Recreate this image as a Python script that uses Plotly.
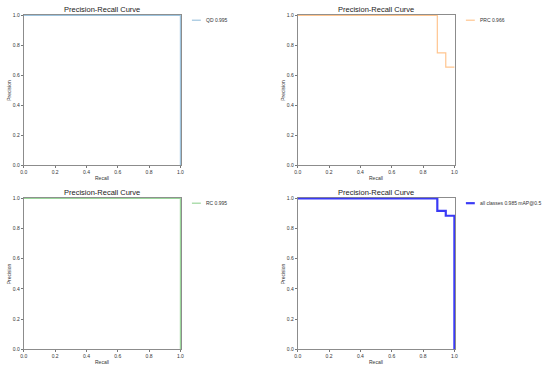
import plotly.graph_objects as go

# Data (recall, precision) step points
qd_recall = [0.0, 1.0]
qd_precision = [1.0, 0.0]
prc_recall = [0.0, 0.891, 0.945, 1.0]
prc_precision = [1.0, 0.75, 0.655, 0.655]
rc_recall = [0.0, 1.0]
rc_precision = [1.0, 0.0]
all_recall = [0.0, 0.891, 0.945, 1.0]
all_precision = [1.0, 0.917, 0.885, 0.0]

labels = ["QD 0.995", "PRC 0.966", "RC 0.995", "all classes 0.985 mAP@0.5"]
colors = ["#9ec4de", "#ffc58f", "#9ad69a", "#3a3af5"]
widths = [1.2, 1.2, 1.2, 2.2]
ticks = [0.0, 0.2, 0.4, 0.6, 0.8, 1.0]
tick_text = ["0.0", "0.2", "0.4", "0.6", "0.8", "1.0"]

W, H = 550, 369
FONT = "Liberation Sans, Arial, sans-serif"
TXT = "#333333"

# panel domains (paper coords)
xd = [(21 / W, 180 / W), (298 / W, 457 / W)]
yd = [(1 - 165 / H, 1 - 12 / H), (1 - 352 / H, 1 - 198 / H)]

panels = [
    (qd_recall, qd_precision, 0, 0),
    (prc_recall, prc_precision, 1, 0),
    (rc_recall, rc_precision, 0, 1),
    (all_recall, all_precision, 1, 1),
]

fig = go.Figure()
annotations = []
shapes = []
layout = dict(
    width=W, height=H, margin=dict(l=0, r=0, t=0, b=0),
    paper_bgcolor="white", plot_bgcolor="white",
    font=dict(family=FONT, size=5, color=TXT),
    showlegend=False,
)

for i, (xr, yp, cx, ry) in enumerate(panels):
    n = i + 1
    xa = "x" if n == 1 else f"x{n}"
    ya = "y" if n == 1 else f"y{n}"
    fig.add_trace(go.Scatter(
        x=xr, y=yp, mode="lines", line=dict(color=colors[i], width=widths[i], shape="hv"),
        name=labels[i], xaxis=xa, yaxis=ya,
    ))
    axcommon = dict(
        range=[0, 1.004], showgrid=False, zeroline=False, showline=True, mirror=True,
        linecolor="#8c8c8c", linewidth=1, ticks="outside", ticklen=2, tickwidth=0.8,
        tickcolor="#555555", tickvals=ticks, ticktext=tick_text, layer="below traces",
        tickfont=dict(size=5, family=FONT, color=TXT), fixedrange=True,
    )
    layout[("xaxis" if n == 1 else f"xaxis{n}")] = dict(axcommon, domain=list(xd[cx]), anchor=ya)
    layout[("yaxis" if n == 1 else f"yaxis{n}")] = dict(axcommon, domain=list(yd[ry]), anchor=xa)

    xmid = (xd[cx][0] + xd[cx][1]) / 2
    ymid = (yd[ry][0] + yd[ry][1]) / 2
    # subplot title
    annotations.append(dict(
        text="Precision-Recall Curve", xref="paper", yref="paper",
        x=xmid, y=yd[ry][1], xanchor="center", yanchor="bottom", yshift=-1,
        showarrow=False, font=dict(size=7.5, family=FONT, color="#222222"),
    ))
    # axis titles
    annotations.append(dict(
        text="Recall", xref="paper", yref="paper", x=xmid, y=yd[ry][0],
        xanchor="center", yanchor="top", yshift=-8, showarrow=False,
        font=dict(size=5, family=FONT, color=TXT),
    ))
    annotations.append(dict(
        text="Precision", xref="paper", yref="paper", x=xd[cx][0], y=ymid,
        xanchor="center", yanchor="middle", xshift=-15, textangle=-90, showarrow=False,
        font=dict(size=5, family=FONT, color=TXT),
    ))
    # legend (line sample + label)
    lx0 = xd[cx][1] + 11 / W
    lx1 = xd[cx][1] + 20 / W
    ly = yd[ry][1] - 5.5 / H
    shapes.append(dict(
        type="line", xref="paper", yref="paper", x0=lx0, x1=lx1, y0=ly, y1=ly,
        line=dict(color=colors[i], width=widths[i]),
    ))
    annotations.append(dict(
        text=labels[i], xref="paper", yref="paper", x=xd[cx][1] + 23 / W, y=ly,
        xanchor="left", yanchor="middle", showarrow=False,
        font=dict(size=5, family=FONT, color=TXT),
    ))

layout["annotations"] = annotations
layout["shapes"] = shapes
fig.update_layout(**layout)
fig.write_html(
    "out.html",
    config={"displayModeBar": False, "staticPlot": True},
    post_script="document.body.style.margin='0';document.body.style.padding='0';",
)
